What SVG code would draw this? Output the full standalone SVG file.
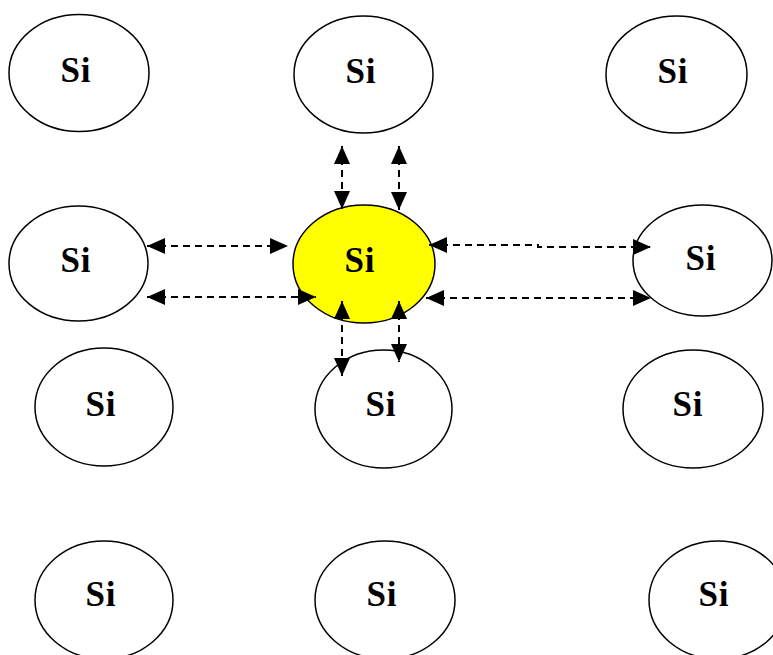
<svg xmlns="http://www.w3.org/2000/svg" width="773" height="655" viewBox="0 0 773 655">
<style>
.atom{fill:#fff;stroke:#000;stroke-width:1.5}
.center{fill:#ffff00}
.lbl{font-family:"Liberation Serif","Times New Roman",serif;font-weight:bold;font-size:35px;letter-spacing:1px;fill:#000;text-anchor:middle}
.bond{stroke:#000;stroke-width:2;stroke-dasharray:7,5;fill:none;marker-start:url(#ah);marker-end:url(#ah)}
</style>
<defs>
<marker id="ah" markerUnits="userSpaceOnUse" markerWidth="19" markerHeight="18" refX="18" refY="9" orient="auto-start-reverse" viewBox="0 0 19 18">
<path d="M0,1 L18,9 L0,17 z" fill="#000"/>
</marker>
</defs>
<rect width="773" height="655" fill="#fff"/>
<g id="si-r1c1"><ellipse class="atom" cx="79" cy="73" rx="70" ry="58.5"/><text class="lbl" x="76" y="82">Si</text></g>
<g id="si-r1c2"><ellipse class="atom" cx="363.5" cy="74.5" rx="69.5" ry="58.5"/><text class="lbl" x="361" y="83">Si</text></g>
<g id="si-r1c3"><ellipse class="atom" cx="676.5" cy="74.5" rx="70.5" ry="58.5"/><text class="lbl" x="673" y="83">Si</text></g>
<g id="si-r2c1"><ellipse class="atom" cx="78.5" cy="263.5" rx="69.5" ry="57.5"/><text class="lbl" x="76" y="272">Si</text></g>
<g id="si-center"><ellipse class="atom center" cx="364" cy="264" rx="71" ry="59"/><text class="lbl" x="360" y="272">Si</text></g>
<g id="si-r2c3"><ellipse class="atom" cx="702.5" cy="260.5" rx="69.5" ry="55.5"/><text class="lbl" x="701" y="270">Si</text></g>
<g id="si-r3c1"><ellipse class="atom" cx="104" cy="407" rx="69" ry="59"/><text class="lbl" x="101" y="416">Si</text></g>
<g id="si-r3c2"><ellipse class="atom" cx="383.5" cy="409" rx="68.5" ry="59"/><text class="lbl" x="381" y="416">Si</text></g>
<g id="si-r3c3"><ellipse class="atom" cx="693" cy="409" rx="70" ry="59"/><text class="lbl" x="688" y="416">Si</text></g>
<g id="si-r4c1"><ellipse class="atom" cx="104" cy="600" rx="69" ry="59"/><text class="lbl" x="101" y="606">Si</text></g>
<g id="si-r4c2"><ellipse class="atom" cx="385" cy="600" rx="70" ry="59"/><text class="lbl" x="382" y="606">Si</text></g>
<g id="si-r4c3"><ellipse class="atom" cx="718" cy="600" rx="69" ry="59"/><text class="lbl" x="714" y="606">Si</text></g>
<g id="connectors">
<line class="bond" x1="342" y1="146" x2="342" y2="209"/>
<line class="bond" x1="399" y1="146" x2="399" y2="210"/>
<line class="bond" x1="147" y1="246" x2="288" y2="246"/>
<line class="bond" x1="147" y1="297" x2="316" y2="297"/>
<line class="bond" x1="342" y1="301" x2="342" y2="376"/>
<line class="bond" x1="399" y1="301" x2="399" y2="362"/>
<path class="bond" d="M429,245 H538 V247 H651"/>
<line class="bond" x1="426" y1="298" x2="651" y2="298"/>
</g>
</svg>
